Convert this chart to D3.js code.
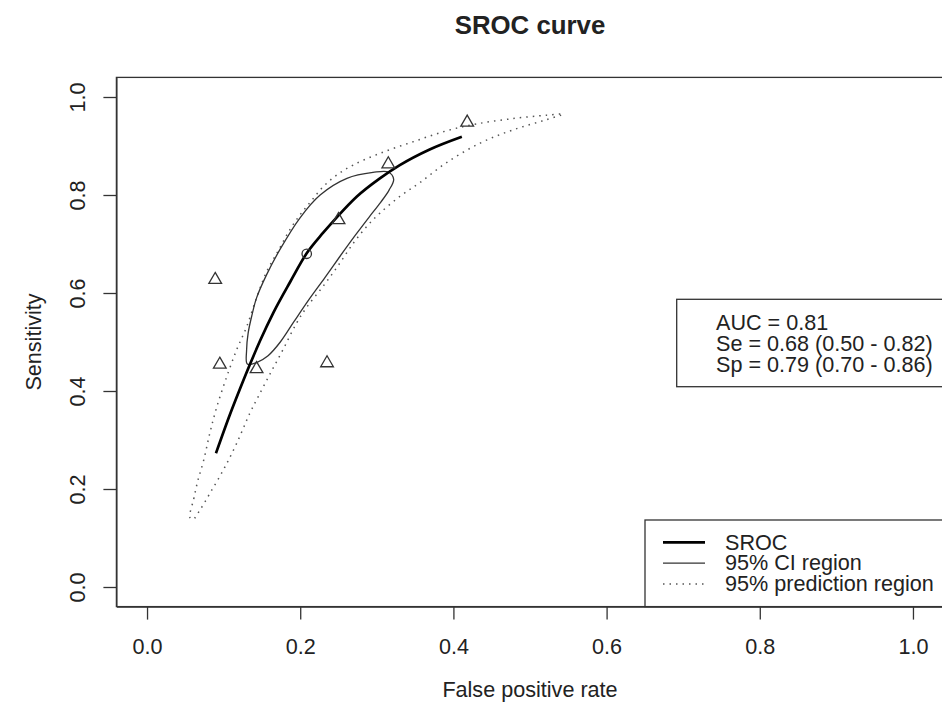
<!DOCTYPE html>
<html>
<head>
<meta charset="utf-8">
<script src="https://cdn.jsdelivr.net/npm/d3@7"></script>
<style>
  body { margin: 0; background: #fff; }
  text { font-family: "Liberation Sans", Arial, sans-serif; fill: #222; }
</style>
</head>
<body>
<svg id="chart"></svg>
<script>
/* data: [false positive rate, sensitivity] */
var studies = [[0.418, 0.948], [0.315, 0.863], [0.250, 0.749], [0.089, 0.627],
               [0.095, 0.454], [0.143, 0.445], [0.235, 0.457]];
var summaryPoint = [0.2085, 0.680];

var srocCurve = [[0.090, 0.273], [0.108, 0.351], [0.121, 0.403], [0.134, 0.453],
                 [0.148, 0.504], [0.165, 0.560], [0.187, 0.623], [0.208, 0.680],
                 [0.230, 0.723], [0.248, 0.755], [0.274, 0.797], [0.304, 0.834],
                 [0.330, 0.861], [0.369, 0.893], [0.411, 0.919]];

var ciRegion = [[0.131, 0.455], [0.130, 0.484], [0.132, 0.518], [0.137, 0.555],
                [0.143, 0.590], [0.156, 0.637], [0.174, 0.690], [0.200, 0.754],
                [0.226, 0.800], [0.261, 0.834], [0.295, 0.846], [0.315, 0.847],
                [0.322, 0.832], [0.316, 0.810], [0.305, 0.785], [0.290, 0.755],
                [0.272, 0.718], [0.252, 0.675], [0.232, 0.631], [0.212, 0.588],
                [0.192, 0.542], [0.174, 0.500], [0.158, 0.472], [0.143, 0.458]];

var predRegion = [[0.056, 0.142], [0.061, 0.180], [0.066, 0.215], [0.074, 0.259],
                  [0.082, 0.314], [0.091, 0.367], [0.104, 0.429], [0.117, 0.484],
                  [0.130, 0.531], [0.143, 0.590], [0.156, 0.643], [0.172, 0.688],
                  [0.186, 0.728], [0.200, 0.760], [0.214, 0.787], [0.230, 0.817],
                  [0.248, 0.841], [0.269, 0.861], [0.304, 0.885], [0.348, 0.909],
                  [0.391, 0.931], [0.430, 0.945], [0.478, 0.956], [0.522, 0.963],
                  [0.543, 0.965], [0.522, 0.954], [0.478, 0.933], [0.435, 0.906],
                  [0.391, 0.866], [0.356, 0.825], [0.330, 0.797], [0.304, 0.763],
                  [0.287, 0.736], [0.270, 0.703], [0.250, 0.657], [0.230, 0.614],
                  [0.208, 0.570], [0.195, 0.538], [0.178, 0.486], [0.161, 0.436],
                  [0.145, 0.388], [0.134, 0.354], [0.117, 0.293], [0.100, 0.240],
                  [0.082, 0.191], [0.069, 0.157], [0.060, 0.138]];

var tickValues = [0, 0.2, 0.4, 0.6, 0.8, 1.0];
var statsLines = ["AUC = 0.81", "Se = 0.68 (0.50 - 0.82)", "Sp = 0.79 (0.70 - 0.86)"];
var legendItems = ["SROC", "95% CI region", "95% prediction region"];

var W = 942, H = 711;
var fs = 21.6;

var svg = d3.select('#chart').attr('width', W).attr('height', H);

var x = d3.scaleLinear().domain([-0.04, 1.04]).range([116.4, 943.6]);
var y = d3.scaleLinear().domain([-0.04, 1.04]).range([606.6, 77.4]);

/* title + axis titles */
svg.append('text').attr('x', 530).attr('y', 34).attr('text-anchor', 'middle')
    .attr('font-size', 25.8).attr('font-weight', 'bold').text('SROC curve');
svg.append('text').attr('x', 530).attr('y', 697).attr('text-anchor', 'middle')
    .attr('font-size', fs).text('False positive rate');
svg.append('text').attr('transform', 'translate(41,342) rotate(-90)')
    .attr('text-anchor', 'middle').attr('font-size', fs).text('Sensitivity');

/* axes */
var xAxis = svg.append('g').attr('transform', 'translate(0,606.6)')
    .call(d3.axisBottom(x).tickValues(tickValues).tickFormat(d3.format('.1f'))
        .tickSize(13).tickSizeOuter(0));
xAxis.selectAll('text').attr('y', 47).attr('dy', 0).attr('font-size', fs);

var yAxis = svg.append('g').attr('transform', 'translate(116.4,0)')
    .call(d3.axisLeft(y).tickValues(tickValues).tickFormat(d3.format('.1f'))
        .tickSize(13).tickSizeOuter(0));
yAxis.selectAll('text')
    .attr('x', null).attr('dy', 0)
    .attr('text-anchor', 'middle')
    .attr('transform', 'translate(-31,0) rotate(-90)')
    .attr('font-size', fs);

svg.selectAll('.domain, .tick line').attr('stroke', '#333').attr('stroke-width', 1.3);
svg.selectAll('.tick text').attr('fill', '#222').attr('font-family', '"Liberation Sans", Arial, sans-serif');

/* plot box */
svg.append('rect').attr('x', x(-0.04)).attr('y', y(1.04))
    .attr('width', x(1.04) - x(-0.04)).attr('height', y(-0.04) - y(1.04))
    .attr('fill', 'none').attr('stroke', '#333').attr('stroke-width', 1.3);

/* regions and curve */
var line = d3.line().x(d => x(d[0])).y(d => y(d[1]));

svg.append('path').datum(predRegion)
    .attr('d', line.curve(d3.curveCatmullRomClosed.alpha(0.5)))
    .attr('fill', 'none').attr('stroke', '#555').attr('stroke-width', 1.5)
    .attr('stroke-dasharray', '1.5,5');

svg.append('path').datum(ciRegion)
    .attr('d', line.curve(d3.curveCatmullRomClosed.alpha(0.5)))
    .attr('fill', 'none').attr('stroke', '#333').attr('stroke-width', 1.3);

svg.append('path').datum(srocCurve)
    .attr('d', line.curve(d3.curveMonotoneX))
    .attr('fill', 'none').attr('stroke', '#000').attr('stroke-width', 2.7)
    .attr('stroke-linecap', 'butt');

/* study points and summary point */
svg.selectAll('path.study').data(studies).enter()
    .append('path').attr('class', 'study')
    .attr('transform', d => `translate(${x(d[0])},${y(d[1])})`)
    .attr('d', d3.symbol().type(d3.symbolTriangle).size(70))
    .attr('fill', 'none').attr('stroke', '#333').attr('stroke-width', 1.3);

svg.append('circle').attr('cx', x(summaryPoint[0])).attr('cy', y(summaryPoint[1]))
    .attr('r', 4.7).attr('fill', 'none').attr('stroke', '#333').attr('stroke-width', 1.3);

/* stats box */
svg.append('rect').attr('x', 676.7).attr('y', 299.3).attr('width', 270).attr('height', 87.4)
    .attr('fill', '#fff').attr('stroke', '#333').attr('stroke-width', 1.3);
svg.selectAll('text.stat').data(statsLines).enter()
    .append('text').attr('class', 'stat')
    .attr('x', 716).attr('y', (d, i) => 329.5 + i * 21)
    .attr('font-size', fs).text(d => d);

/* legend */
var legendStyles = [
    {w: 2.7, c: '#000', dash: null},
    {w: 1.3, c: '#333', dash: null},
    {w: 1.5, c: '#555', dash: '1.5,5'}
];
svg.append('rect').attr('x', 645).attr('y', 520).attr('width', 300).attr('height', 606.6 - 520)
    .attr('fill', '#fff').attr('stroke', '#333').attr('stroke-width', 1.3);
var leg = svg.selectAll('g.leg').data(legendItems).enter()
    .append('g').attr('class', 'leg')
    .attr('transform', (d, i) => `translate(0,${542.3 + i * 20.8})`);
leg.append('line').attr('x1', 663).attr('x2', 705).attr('y1', 0).attr('y2', 0)
    .attr('stroke', (d, i) => legendStyles[i].c)
    .attr('stroke-width', (d, i) => legendStyles[i].w)
    .attr('stroke-dasharray', (d, i) => legendStyles[i].dash);
leg.append('text').attr('x', 725).attr('y', 7.2).attr('font-size', fs).text(d => d);
</script>
</body>
</html>
